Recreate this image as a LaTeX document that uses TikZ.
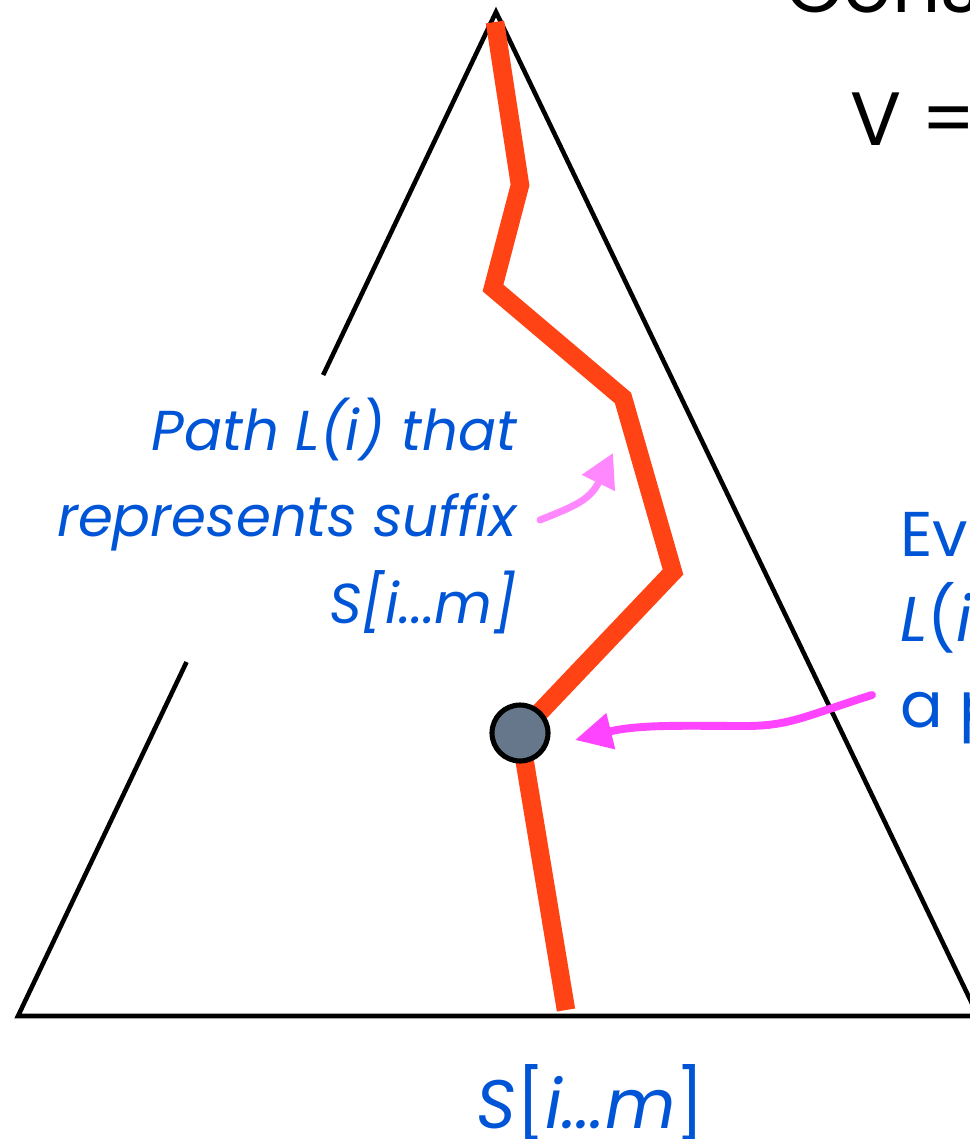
\documentclass[tikz,border=0pt]{standalone}
\usepackage{fontspec}
\setmainfont{Poppins}
\usetikzlibrary{arrows.meta,calc,positioning}
\definecolor{pathred}{RGB}{255,67,20}
\definecolor{noteblue}{RGB}{0,85,215}
\definecolor{hotpink}{RGB}{255,68,255}
\definecolor{softpink}{RGB}{255,136,255}
\definecolor{vertexgray}{RGB}{102,119,140}

\begin{document}
\begin{tikzpicture}[x=0.02cm, y=-0.02cm,
  side/.style={draw, line width=2.6pt, line join=miter},
  suffix/.style={draw=pathred, line width=10.5pt, line join=miter},
  note/.style={text=noteblue, inner sep=0, font=\fontsize{32}{49}\selectfont\itshape, align=right},
  slide/.style={inner sep=0, font=\fontsize{43}{50}\selectfont},
  vertex/.style={draw, circle, line width=2.9pt, fill=vertexgray, minimum size=1.12cm, inner sep=0},
  pointer/.style={line width=#1, line cap=round}]

\useasboundingbox (0,0) rectangle (970,1139);
\clip (0,0) rectangle (970,1139);

% the tree
\coordinate (top) at (496,12);
\coordinate (bl)  at (18,1016);
\coordinate (br)  at (978,1016);
\draw[side] ($(top)!0.6474!(bl)$) -- (bl) -- (br) -- (top) -- ($(top)!0.3616!(bl)$);

% path L(i)
\draw[suffix] (495,22) -- (520,185) -- (493,288) -- (623,398) -- (673,572)
  -- (520,733) -- (566,1010);
\node[vertex] (vtx) at (520,733) {};

% texts
\node[note, anchor=base east] (pathnote) at (517,623) {Path L(i) that\\represents suffix\\S[i...m]};
\node[note, font=\fontsize{36}{48.5}\selectfont, align=left, anchor=base west] (claim) at (900,727)
  {Eve\\\textit{L}(\textit{i})\\a p};
\node[slide, anchor=base west] (consider) at (785,12) {Consi};
\node[slide, anchor=base west] (vdef) at (850,145) {V =};
\node[slide, font=\fontsize{39}{50}\selectfont, text=noteblue, anchor=base west] (suffixlabel)
  at (476,1128) {\textit{S}[\textit{i...m}]};

% arrows
\coordinate (softtail) at (540,520);
\coordinate (softtip)  at (613,453);
\draw[pointer=4pt, softpink, -{Triangle[length=19pt, width=20pt]}]
  (softtail) .. controls (575,506) and (590,500) .. (softtip);
\coordinate (hottail) at (872,695);
\coordinate (hottip)  at (575,740);
\draw[pointer=4.5pt, hotpink, -{Triangle[length=21pt, width=20pt]}]
  (hottail) .. controls (805,716) and (790,726) .. (745,726)
  .. controls (690,726) and (640,724) .. (hottip);

\end{tikzpicture}
\end{document}
